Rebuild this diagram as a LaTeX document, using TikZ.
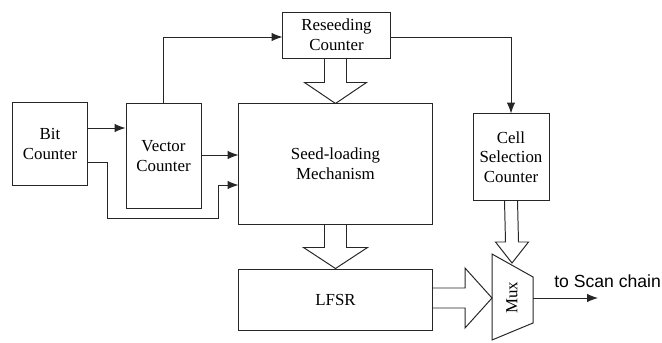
\documentclass[tikz,border=0pt]{standalone}
\usepackage{fontspec}
\setmainfont{Liberation Serif}
\newfontfamily\arialfont{Liberation Sans}
\usetikzlibrary{arrows.meta,calc}

\tikzset{
	block/.style={draw=black!85, line width=0.7pt, align=center, inner sep=1pt,
		font=\fontsize{12}{14}\selectfont},
	wire/.style={draw=black!85, line width=0.7pt},
	fat/.style={draw=black!85, line width=0.7pt, line join=miter},
}

\begin{document}
\begin{tikzpicture}[x=0.025cm, y=-0.025cm, >={Latex[length=2.7mm,width=2.1mm]}]
	\useasboundingbox (0,0) rectangle (662,342);

	% counters and main blocks
	\node[block, minimum width=1.85cm, minimum height=2.05cm] (bit) at (50,144) {Bit\\Counter};
	\node[block, minimum width=1.875cm, minimum height=2.6cm] (vec) at (163.5,156) {Vector\\Counter};
	\node[block, minimum width=4.825cm, minimum height=3cm] (seed) at (335.5,164) {Seed-loading\\Mechanism};
	\node[block, minimum width=2.675cm, minimum height=1.15cm] (reseed) at (336.5,35) {Reseeding\\Counter};
	\node[block, minimum width=1.9cm, minimum height=2.15cm] (cell) at (511,157) {Cell\\Selection\\Counter};
	\node[block, minimum width=4.825cm, minimum height=1.525cm] (lfsr) at (335.5,299.5) {LFSR};

	% multiplexer
	\coordinate (mux-a) at (492,254);
	\coordinate (mux-b) at (533,277);
	\coordinate (mux-c) at (533,323);
	\coordinate (mux-d) at (492,340);
	\coordinate (mux-top) at (512,263);
	\coordinate (mux-in) at (492,298);
	\coordinate (mux-out) at (533,298);
	\draw[wire] (mux-a) -- (mux-b) -- (mux-c) -- (mux-d) -- cycle;
	\node[rotate=90, font=\fontsize{12}{14}\selectfont] (mux) at (512,298) {Mux};

	% output
	\coordinate (scan) at (598,298);
	\draw[wire, ->] (mux-out) -- (scan);
	\node[anchor=west, inner sep=0pt, font=\arialfont\fontsize{12.5}{14}\selectfont] (scantxt) at (554,281) {to Scan chain};

	% thin connectors
	\draw[wire, ->] ($(bit.east)+(0,-16)$) -- ($(vec.west)+(0,-28)$);
	\draw[wire, ->] ($(bit.east)+(0,18)$) -- (107,162) -- (107,218) -- (218,218) -- (218,185) -- ($(seed.west)+(0,21)$);
	\draw[wire, ->] ($(vec.east)+(0,-1)$) -- ($(seed.west)+(0,-9)$);
	\draw[wire, ->] (vec.north) |- ($(reseed.west)+(0,2)$);
	\draw[wire, ->] ($(reseed.east)+(0,2)$) -| (cell.north);

	% hollow arrows
	\draw[fat] ($(reseed.south -| seed.north)+(-11,0)$) -- ($(seed.north)+(-11,-21)$) -- ($(seed.north)+(-31,-21)$)
		-- (seed.north) -- ($(seed.north)+(31,-21)$) -- ($(seed.north)+(11,-21)$) -- ($(reseed.south -| seed.north)+(11,0)$);
	\draw[fat] ($(seed.south)+(-11,0)$) -- ($(lfsr.north)+(-11,-21)$) -- ($(lfsr.north)+(-32,-21)$)
		-- (lfsr.north) -- ($(lfsr.north)+(32,-21)$) -- ($(lfsr.north)+(11,-21)$) -- ($(seed.south)+(11,0)$);
	\draw[fat] ($(cell.south)+(-6.5,0)$) -- ($(mux-top)+(-6.5,-21)$) -- ($(mux-top)+(-16.5,-21)$)
		-- (mux-top) -- ($(mux-top)+(16.5,-21)$) -- ($(mux-top)+(6.5,-21)$) -- ($(cell.south)+(6.5,0)$);
	\draw[fat] ($(lfsr.east |- mux-in)+(0,-10)$) -- ($(mux-in)+(-27,-10)$) -- ($(mux-in)+(-27,-30)$)
		-- (mux-in) -- ($(mux-in)+(-27,30)$) -- ($(mux-in)+(-27,10)$) -- ($(lfsr.east |- mux-in)+(0,10)$);
\end{tikzpicture}
\end{document}
